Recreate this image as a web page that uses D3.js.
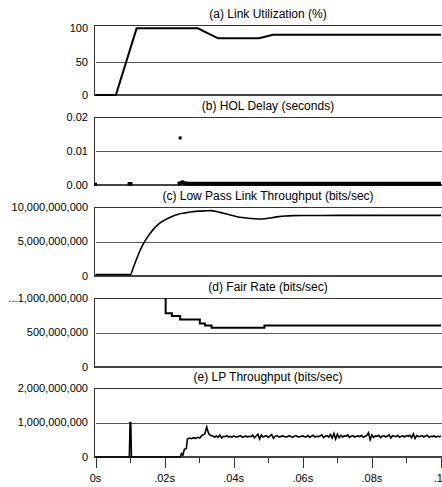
<!DOCTYPE html>
<html>
<head>
<meta charset="utf-8">
<script src="https://cdn.jsdelivr.net/npm/d3@7"></script>
<style>
  body { margin: 0; background: #fff; }
  svg { font-family: "Liberation Sans", Arial, sans-serif; font-size: 11px; }
  .title { font-size: 12px; }
  .grid { stroke: #555; stroke-width: 1; shape-rendering: crispEdges; }
  .frame { stroke: #333; stroke-width: 1; shape-rendering: crispEdges; }
  .base { stroke: #444; stroke-width: 2; shape-rendering: crispEdges; }
  .series { fill: none; stroke: #000; }
</style>
</head>
<body>
<div id="chart"></div>
<script>
(function() {
  const width = 442, height = 487;

  // x axis (seconds)
  const timeTicks = [0, 0.02, 0.04, 0.06, 0.08, 0.1];
  const timeTickLabels = ['0s', '.02s', '.04s', '.06s', '.08s', '.1s'];
  const timeMinor = [0.01, 0.03, 0.05, 0.07, 0.09];

  // (a) link utilization, percent
  const utilization = [
    [0, 0], [0.0059, 0], [0.0119, 100], [0.0296, 100], [0.0355, 85],
    [0.0473, 85], [0.0514, 90.5], [0.1, 90.5]
  ];

  // (b) HOL delay, seconds
  const holPoints = [
    [0, 0.0001], [0.0097, 0.0002], [0.0099, 0.0002], [0.0101, 0.0002],
    [0.0103, 0.0002], [0.0245, 0.0137]
  ];
  const holBand = [
    [0.0238, 0.0003], [0.0245, 0.0005], [0.0252, 0.0008], [0.0258, 0.0005],
    [0.027, 0.0004], [0.03, 0.0004], [0.035, 0.0004], [0.04, 0.0004],
    [0.05, 0.0004], [0.06, 0.0004], [0.07, 0.0004], [0.08, 0.0004],
    [0.09, 0.0004], [0.1, 0.0004]
  ];

  // (c) low pass link throughput, bits/sec
  const lowPass = [
    [0, 0.2e9], [0.0101, 0.2e9], [0.011, 1.3e9], [0.012, 2.6e9], [0.013, 3.8e9],
    [0.014, 4.8e9], [0.015, 5.6e9], [0.016, 6.3e9], [0.017, 6.9e9], [0.018, 7.4e9],
    [0.019, 7.8e9], [0.020, 8.1e9], [0.022, 8.6e9], [0.024, 8.95e9], [0.026, 9.15e9],
    [0.028, 9.3e9], [0.030, 9.4e9], [0.032, 9.45e9], [0.0335, 9.48e9], [0.035, 9.35e9],
    [0.037, 9.1e9], [0.039, 8.85e9], [0.041, 8.6e9], [0.043, 8.45e9], [0.045, 8.33e9],
    [0.047, 8.27e9], [0.049, 8.3e9], [0.051, 8.45e9], [0.053, 8.6e9], [0.055, 8.7e9],
    [0.057, 8.75e9], [0.06, 8.77e9], [0.07, 8.78e9], [0.1, 8.78e9]
  ];

  // (d) fair rate, bits/sec (step)
  const fairRate = [
    [0.0203, 1.0e9], [0.0203, 0.78e9], [0.0221, 0.74e9], [0.0245, 0.69e9],
    [0.0302, 0.63e9], [0.0317, 0.60e9], [0.0336, 0.57e9], [0.0489, 0.60e9],
    [0.1, 0.60e9]
  ];

  // (e) LP throughput, bits/sec; startup part then samples every 0.5 ms
  const lpStart = [
    [0, 0], [0.0098, 0], [0.0100, 1.0e9], [0.0102, 1.0e9], [0.0104, 0],
    [0.0245, 0], [0.0249, 0.1e9], [0.0253, 0.05e9], [0.0257, 0.22e9], [0.0263, 0.25e9],
    [0.0266, 0.52e9], [0.0272, 0.55e9], [0.0278, 0.53e9], [0.0284, 0.56e9], [0.029, 0.54e9],
    [0.0296, 0.57e9], [0.0302, 0.55e9], [0.0306, 0.6e9], [0.031, 0.64e9], [0.0316, 0.66e9],
    [0.0322, 0.87e9], [0.0326, 0.72e9], [0.033, 0.64e9], [0.0335, 0.62e9]
  ];
  const lpFrom = 0.034, lpStep = 0.0005;
  const lpSamples = [ // units of 1e9
    0.60,0.58,0.61,0.57,0.64,0.55,0.60,0.59,0.62,0.58,
    0.60,0.57,0.61,0.59,0.58,0.60,0.62,0.57,0.59,0.61,
    0.58,0.60,0.59,0.63,0.56,0.61,0.66,0.52,0.64,0.58,
    0.60,0.62,0.57,0.61,0.65,0.54,0.60,0.62,0.58,0.59,
    0.61,0.60,0.58,0.59,0.61,0.60,0.57,0.60,0.62,0.59,
    0.58,0.60,0.61,0.59,0.58,0.62,0.57,0.60,0.63,0.58,
    0.60,0.59,0.61,0.64,0.56,0.60,0.62,0.58,0.65,0.55,
    0.68,0.52,0.66,0.56,0.63,0.58,0.61,0.60,0.64,0.57,
    0.60,0.62,0.58,0.60,0.61,0.59,0.63,0.57,0.60,0.62,
    0.70,0.50,0.64,0.57,0.61,0.60,0.63,0.56,0.60,0.62,
    0.58,0.61,0.64,0.55,0.62,0.60,0.59,0.63,0.57,0.60,
    0.61,0.58,0.62,0.60,0.63,0.56,0.67,0.54,0.62,0.59,
    0.60,0.62,0.58,0.61,0.63,0.57,0.60,0.59,0.61,0.58,
    0.60,0.59,0.60
  ];

  const panels = [
    { title: '(a) Link Utilization (%)', top: 25, h: 70, max: 105,
      ticks: [0, 50, 100], labels: ['0', '50', '100'], grid: 50 },
    { title: '(b) HOL Delay (seconds)', top: 117, h: 68, max: 0.02,
      ticks: [0, 0.01, 0.02], labels: ['0.00', '0.01', '0.02'], grid: 0.01 },
    { title: '(c) Low Pass Link Throughput (bits/sec)', top: 207, h: 69, max: 1e10,
      ticks: [0, 5e9, 1e10], labels: ['0', '5,000,000,000', '10,000,000,000'], grid: 5e9 },
    { title: '(d) Fair Rate (bits/sec)', top: 298, h: 69, max: 1e9,
      ticks: [0, 5e8, 1e9], labels: ['0', '500,000,000', '...1,000,000,000'], grid: 5e8 },
    { title: '(e) LP Throughput (bits/sec)', top: 388, h: 69, max: 2e9,
      ticks: [0, 1e9, 2e9], labels: ['0', '1,000,000,000', '2,000,000,000'], grid: 1e9 }
  ];

  const svg = d3.select('#chart')
    .append('svg')
      .attr('width', width)
      .attr('height', height);

  const x = d3.scaleLinear().domain([0, 0.1]).range([95.5, 441]);
  const left = 94, right = 442;

  panels.forEach(p => {
    p.y = d3.scaleLinear().domain([0, p.max]).range([p.top + p.h, p.top]);
    const g = svg.append('g');

    g.append('text')
      .attr('class', 'title')
      .attr('x', 268).attr('y', p.top - 7)
      .attr('text-anchor', 'middle')
      .text(p.title);

    g.append('line').attr('class', 'frame')
      .attr('x1', left).attr('x2', right)
      .attr('y1', p.top + 0.5).attr('y2', p.top + 0.5);
    g.append('line').attr('class', 'grid')
      .attr('x1', left + 2).attr('x2', right)
      .attr('y1', Math.round(p.y(p.grid)) + 0.5).attr('y2', Math.round(p.y(p.grid)) + 0.5);
    g.append('line').attr('class', 'base')
      .attr('x1', left).attr('x2', right)
      .attr('y1', p.top + p.h).attr('y2', p.top + p.h);
    g.append('line').attr('class', 'frame')
      .attr('x1', left + 0.5).attr('x2', left + 0.5)
      .attr('y1', p.top).attr('y2', p.top + p.h + 1);

    g.selectAll('.tick-label')
      .data(p.ticks)
      .enter().append('text')
      .attr('class', 'tick-label')
      .attr('x', 88)
      .attr('y', d => p.y(d))
      .attr('dy', '0.35em')
      .attr('text-anchor', 'end')
      .text((d, i) => p.labels[i]);
  });

  const line = y => d3.line().x(d => x(d[0])).y(d => y(d[1]));

  // (a)
  const pa = panels[0];
  svg.append('path').datum(utilization)
    .attr('class', 'series').attr('stroke-width', 2)
    .attr('d', line(pa.y));

  // (b)
  const pb = panels[1];
  svg.append('path').datum(holBand)
    .attr('class', 'series').attr('stroke-width', 4)
    .attr('d', line(pb.y));
  svg.selectAll('.hol')
    .data(holPoints)
    .enter().append('rect')
    .attr('class', 'hol')
    .attr('x', d => x(d[0]) - 1.5)
    .attr('y', d => pb.y(d[1]) - 2)
    .attr('width', 3).attr('height', 3)
    .attr('fill', '#000');

  // (c)
  const pc = panels[2];
  svg.append('path').datum(lowPass)
    .attr('class', 'series').attr('stroke-width', 1.6)
    .attr('d', line(pc.y).curve(d3.curveMonotoneX));

  // (d)
  const pd = panels[3];
  svg.append('path').datum(fairRate)
    .attr('class', 'series').attr('stroke-width', 2)
    .attr('d', line(pd.y).curve(d3.curveStepAfter));

  // (e)
  const pe = panels[4];
  const lpAll = lpStart.concat(lpSamples.map((v, i) => [lpFrom + i * lpStep, v * 1e9]));
  svg.append('path').datum(lpAll)
    .attr('class', 'series').attr('stroke-width', 1.6)
    .attr('d', line(pe.y));

  // time axis under the last panel
  const axisY = pe.top + pe.h + 1;
  svg.selectAll('.major')
    .data(timeTicks)
    .enter().append('line')
    .attr('class', 'frame')
    .attr('x1', d => Math.round(x(d)) + 0.5).attr('x2', d => Math.round(x(d)) + 0.5)
    .attr('y1', axisY).attr('y2', axisY + 10);
  svg.selectAll('.minor')
    .data(timeMinor)
    .enter().append('line')
    .attr('class', 'frame')
    .attr('x1', d => Math.round(x(d)) + 0.5).attr('x2', d => Math.round(x(d)) + 0.5)
    .attr('y1', axisY).attr('y2', axisY + 5);
  svg.selectAll('.time-label')
    .data(timeTicks)
    .enter().append('text')
    .attr('x', d => x(d))
    .attr('y', 482)
    .attr('text-anchor', 'middle')
    .text((d, i) => timeTickLabels[i]);
})();
</script>
</body>
</html>
